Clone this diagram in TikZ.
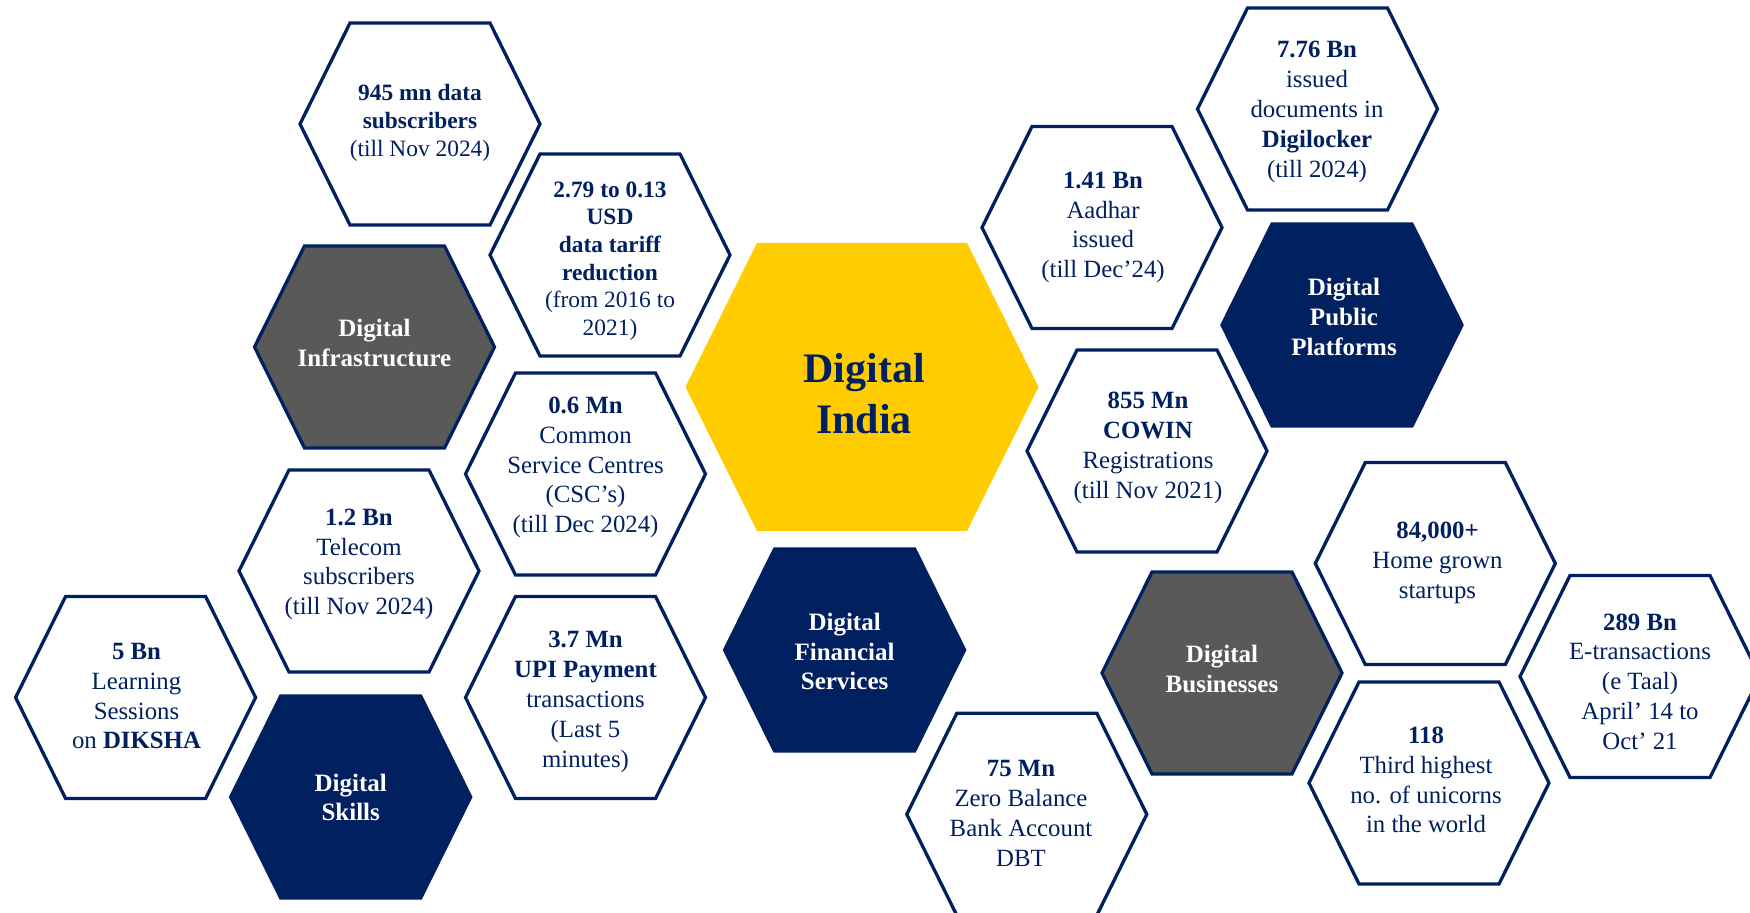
\documentclass[tikz,border=0pt]{standalone}
\usepackage{fontspec}
\setmainfont{Liberation Serif}
\definecolor{navy}{HTML}{002060}
\definecolor{dgray}{HTML}{595959}
\definecolor{dyellow}{HTML}{FFCC00}
% hexagon: style, x, y, name
\newcommand\hexa[4]{%
  \path[#1] (#2-120,#3) -- (#2-70,#3-101) -- (#2+70,#3-101) -- (#2+120,#3)
    -- (#2+70,#3+101) -- (#2-70,#3+101) -- cycle;
  \coordinate (#4) at (#2,#3);}
\tikzset{
  outl/.style={draw=navy, line width=1.65pt, fill=white, line join=miter},
  grayhex/.style={draw=navy, line width=1.65pt, fill=dgray, line join=miter},
  navyhex/.style={draw=navy, line width=1.65pt, fill=navy, line join=miter},
  txt/.style={align=center, text=navy, inner sep=0pt, font=\fontsize{12.4}{14.9}\selectfont},
  txtsm/.style={align=center, text=navy, inner sep=0pt, font=\fontsize{11.7}{13.85}\selectfont},
  cat/.style={align=center, text=white, inner sep=0pt, font=\bfseries\fontsize{12.5}{14.8}\selectfont},
}
\begin{document}
\begin{tikzpicture}[x=0.5pt, y=-0.5pt]
\useasboundingbox (0,0) rectangle (1750,913);
\clip (0,0) rectangle (1750,913);
% centre hexagon
\path[fill=dyellow] (685.5,387) -- (757,243) -- (967,243) -- (1038.5,387) -- (967,531) -- (757,531) -- cycle;
\coordinate (hDI0) at (862,387);
\node[align=center, text=navy, inner sep=0pt, font=\bfseries\fontsize{21}{25.5}\selectfont] (tIndia) at (864,393.4) {Digital\\India};
% outlined hexagons
\hexa{outl}{420}{124}{h945}
\node[txtsm] (t945) at (420,123) {\textbf{945 mn data}\\\textbf{subscribers}\\(till Nov 2024)};
\hexa{outl}{610}{255}{h279}
\node[txtsm] (t279) at (610,261) {\textbf{2.79 to 0.13}\\\textbf{USD}\\\textbf{data tariff}\\\textbf{reduction}\\(from 2016 to\\2021)};
\hexa{outl}{585.5}{474}{h06}
\node[txt] (t06) at (585.5,467.5) {\textbf{0.6 Mn}\\Common\\Service Centres\\(CSC’s)\\(till Dec 2024)};
\hexa{outl}{359}{571}{h12}
\node[txt] (t12) at (359,564.5) {\textbf{1.2 Bn}\\Telecom\\subscribers\\(till Nov 2024)};
\hexa{outl}{135.6}{697.5}{h5}
\node[txt] (t5) at (136.5,696.3) {\textbf{5 Bn}\\Learning\\Sessions\\on \textbf{DIKSHA}};
\hexa{outl}{585.5}{697.5}{h37}
\node[txt] (t37) at (585.5,702) {\textbf{3.7 Mn}\\\textbf{UPI Payment}\\transactions\\(Last 5\\minutes)};
\hexa{outl}{1102}{227.5}{h141}
\node[txt] (t141) at (1103,227.5) {\textbf{1.41 Bn}\\Aadhar\\issued\\(till Dec’24)};
\hexa{outl}{1317.5}{109}{h776}
\node[txt] (t776) at (1317,112) {\textbf{7.76 Bn}\\issued\\documents in\\\textbf{Digilocker}\\(till 2024)};
\hexa{outl}{1147}{451}{h855}
\node[txt] (t855) at (1148,448) {\textbf{855 Mn}\\\textbf{COWIN}\\Registrations\\(till Nov 2021)};
\hexa{outl}{1435.3}{563.5}{h84}
\node[txt] (t84) at (1437.5,563) {\textbf{84,000+}\\Home grown\\startups};
\hexa{outl}{1640}{676.5}{h289}
\node[txt] (t289) at (1640,681.5) {\textbf{289 Bn}\\E-transactions\\(e Taal)\\April’ 14 to\\Oct’ 21};
\hexa{outl}{1429}{783}{h118}
\node[txt] (t118) at (1426,780) {\textbf{118}\\Third highest\\no. of unicorns\\in the world};
\hexa{outl}{1026.8}{814.3}{h75}
\node[txt] (t75) at (1021,813.5) {\textbf{75 Mn}\\Zero Balance\\Bank Account\\DBT};
% category hexagons
\hexa{grayhex}{374.5}{347}{hDI}
\node[cat] (tDI) at (374.5,343) {Digital\\Infrastructure};
\hexa{grayhex}{1222}{673}{hDB}
\node[cat] (tDB) at (1222,669) {Digital\\Businesses};
\hexa{navyhex}{350.7}{797}{hDS}
\node[cat] (tDS) at (350.7,797.4) {Digital\\Skills};
\hexa{navyhex}{844.6}{650}{hDFS}
\node[cat] (tDFS) at (844.6,651.7) {Digital\\Financial\\Services};
\hexa{navyhex}{1342}{325}{hDPP}
\node[cat] (tDPP) at (1344,317) {Digital\\Public\\Platforms};
\end{tikzpicture}
\end{document}
